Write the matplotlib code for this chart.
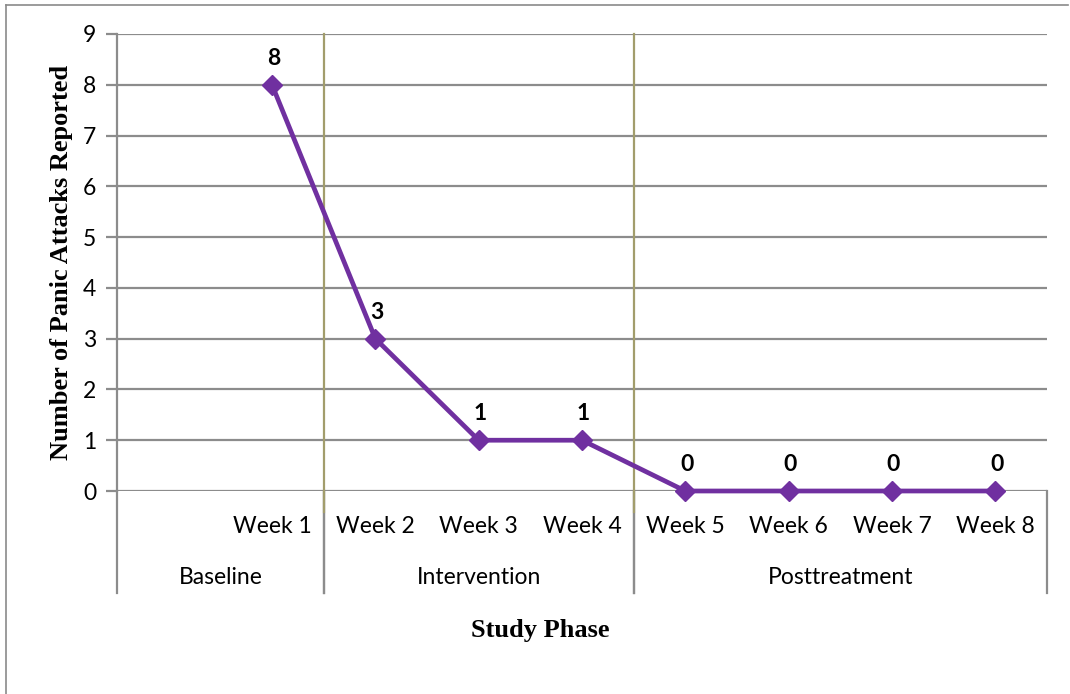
import matplotlib
matplotlib.use("Agg")
import matplotlib.pyplot as plt
from matplotlib.lines import Line2D

# Weekly counts
weeks = ["Week 1", "Week 2", "Week 3", "Week 4", "Week 5", "Week 6", "Week 7", "Week 8"]
attacks = [8, 3, 1, 1, 0, 0, 0, 0]

# Study phases: (name, first slot, last slot); slot 0 is an empty leading slot
phases = [("Baseline", 0, 1), ("Intervention", 2, 4), ("Posttreatment", 5, 8)]

yticks = list(range(0, 10))

label_font = "Lato"
grid_color = "#8c8c8c"
phase_line_color = "#a29d6c"
series_color = "#7030A0"
fs = 16.5

fig = plt.figure(figsize=(10.70, 6.94), dpi=100)
ax = fig.add_axes([117 / 1070, 1 - 491 / 694, 930 / 1070, 457 / 694])

x_pos = list(range(1, len(weeks) + 1))
ax.set_xlim(-0.5, 8.5)
ax.set_ylim(0, 9)

# horizontal gridlines
for y in yticks:
    ax.axhline(y, color=grid_color, lw=1.6, zorder=1)

for s in ["top", "right", "bottom"]:
    ax.spines[s].set_visible(False)
ax.spines["left"].set_color(grid_color)
ax.spines["left"].set_linewidth(1.6)

ax.set_yticks(yticks)
ax.set_yticklabels([str(v) for v in yticks], fontfamily=label_font, fontsize=fs)
ax.tick_params(axis="y", length=8, width=1.6, color=grid_color, pad=7)

ax.set_xticks(x_pos)
ax.set_xticklabels(weeks, fontfamily=label_font, fontsize=fs)
ax.tick_params(axis="x", length=0, pad=18)

xtr = ax.get_xaxis_transform()
bottom_frac = -102 / 457
# phase boundaries inside the plot and just below the axis
for name, first, last in phases[1:]:
    ax.plot([first - 0.5, first - 0.5], [-21 / 457, 1], transform=xtr,
            color=phase_line_color, lw=1.6, clip_on=False, zorder=2)
# phase separators in the label area
for name, first, last in phases:
    for edge in (first - 0.5, last + 0.5):
        ax.plot([edge, edge], [bottom_frac, 0], transform=xtr,
                color=grid_color, lw=1.6, clip_on=False, zorder=1)
    ax.text((first + last) / 2, -86 / 457, name, transform=xtr, ha="center", va="center",
            fontfamily=label_font, fontsize=fs)

# series
ax.plot(x_pos, attacks, color=series_color, lw=3.4, marker="D", markersize=10.5,
        zorder=5, clip_on=False)
for x, v in zip(x_pos, attacks):
    ax.annotate(str(v), (x, v), xytext=(1, 19), textcoords="offset points",
                ha="center", va="center", fontfamily=label_font, fontweight="bold",
                fontsize=fs, annotation_clip=False)

ax.set_ylabel("Number of Panic Attacks Reported", fontfamily="Liberation Serif",
              fontweight="bold", fontsize=19, labelpad=7)
fig.text((470 + 610) / 2 / 1070, 1 - 631 / 694, "Study Phase", ha="center", va="center",
         fontfamily="Liberation Serif", fontweight="bold", fontsize=19)

# outer frame lines
fig.add_artist(Line2D([6 / 1070, 6 / 1070], [0, 1 - 5 / 694], transform=fig.transFigure,
                      color="#8a8a8a", lw=1.2))
fig.add_artist(Line2D([6 / 1070, 1068 / 1070], [1 - 5 / 694, 1 - 5 / 694],
                      transform=fig.transFigure, color="#8a8a8a", lw=1.2))

fig.savefig("out.png", dpi=100)
